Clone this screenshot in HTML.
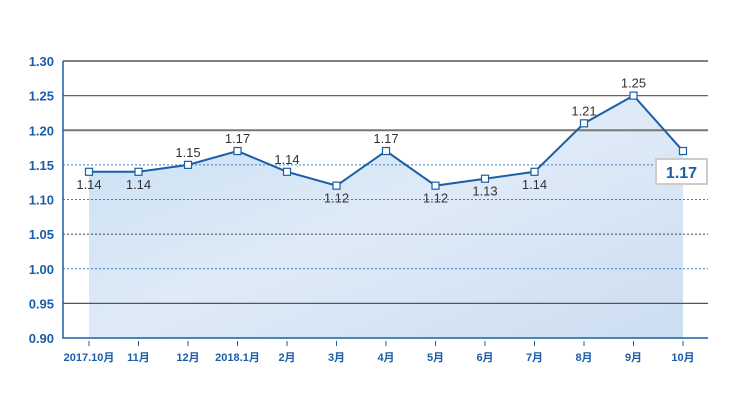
<!DOCTYPE html>
<html><head><meta charset="utf-8"><style>
body{margin:0;background:#fff;width:740px;height:400px;overflow:hidden;font-family:"Liberation Sans","Noto Sans CJK SC",sans-serif}
</style></head><body>
<svg id="chart" width="740" height="400" xmlns="http://www.w3.org/2000/svg">
<defs>
<linearGradient id="ag" x1="0" y1="0" x2="1" y2="1">
<stop offset="0" stop-color="#c4ddf2"/><stop offset="0.5" stop-color="#dde9f7"/><stop offset="1" stop-color="#c9dcf0"/>
</linearGradient>
</defs>
<g id="area"></g><g id="grid"></g><g id="axes"></g><g id="marks"></g>
</svg>
<script>
const categories=["2017.10月","11月","12月","2018.1月","2月","3月","4月","5月","6月","7月","8月","9月","10月"];
const values=[1.14,1.14,1.15,1.17,1.14,1.12,1.17,1.12,1.13,1.14,1.21,1.25,1.17];
const yTicks=["0.90","0.95","1.00","1.05","1.10","1.15","1.20","1.25","1.30"];
const labelBelow=[true,true,false,false,false,true,false,true,true,true,false,false,false];
const NS="http://www.w3.org/2000/svg";
const L=63,R=708,T=61,B=338,ymin=0.9,ymax=1.3;
const y=v=>B-(v-ymin)/(ymax-ymin)*(B-T);
const x=i=>89+i*(683-89)/(categories.length-1);
function mk(p,tag,a){const e=document.createElementNS(NS,tag);for(const k in a)e.setAttribute(k,a[k]);p.appendChild(e);return e;}
const grid=document.getElementById('grid'),area=document.getElementById('area'),axes=document.getElementById('axes'),marks=document.getElementById('marks');
const gstyle={"1.30":["#333","none",1.2],"1.25":["#666","none",1.2],"1.20":["#777","none",2],"1.15":["#3a7cc4","2,2",1],"1.10":["#3a7cc4","2,2",1],"1.05":["#444","2,2",1],"1.00":["#3a7cc4","2,2",1],"0.95":["#555","none",1.2]};
yTicks.forEach(t=>{const v=parseFloat(t);const yy=y(v);
 if(gstyle[t]){const s=gstyle[t];const ln=mk(grid,'line',{x1:L,x2:R,y1:yy,y2:yy,stroke:s[0],'stroke-width':s[2],'stroke-dasharray':s[1]});
 
 }
 const tx=mk(axes,'text',{x:54,y:yy+5,'text-anchor':'end','font-size':13,'font-weight':'bold',fill:'#1b5ea8'});tx.textContent=t;
 
 
});
let d="M"+x(0)+","+B;values.forEach((v,i)=>d+=" L"+x(i)+","+y(v));d+=" L"+x(values.length-1)+","+B+"Z";
const ar=mk(area,'path',{d:d,fill:'url(#ag)',opacity:0.95});


const ax=mk(axes,'path',{d:`M${L},${T} L${L},${B} L${R},${B}`,fill:'none',stroke:'#1b5ea8','stroke-width':1.5});


categories.forEach((c,i)=>{
 const tk=mk(axes,'line',{x1:x(i),x2:x(i),y1:B+3,y2:B+8,stroke:'#1b5ea8','stroke-width':1});
 
 
 const tx=mk(axes,'text',{x:x(i),y:361,'text-anchor':'middle','font-size':11,'font-weight':'bold',fill:'#1b5ea8'});tx.textContent=c;
 
 
});
const pts=values.map((v,i)=>x(i)+","+y(v)).join(" ");
const pl=mk(marks,'polyline',{points:pts,fill:'none',stroke:'#1b5ea8','stroke-width':2});


values.forEach((v,i)=>{
 const r=mk(marks,'rect',{x:x(i)-3.5,y:y(v)-3.5,width:7,height:7,fill:'#fff',stroke:'#1b5ea8','stroke-width':1.2});
 
 
 if(i===values.length-1){
  const bx=mk(marks,'rect',{x:656,y:159,width:51,height:25,fill:'#fff',stroke:'#ccc','stroke-width':2});
  
  
  const t=mk(marks,'text',{x:681.5,y:178,'text-anchor':'middle','font-size':16,'font-weight':'bold',fill:'#1b5ea8'});t.textContent=v.toFixed(2);
  
  
 } else {
  const t=mk(marks,'text',{x:x(i),y:labelBelow[i]?y(v)+17:y(v)-8,'text-anchor':'middle','font-size':13,fill:'#333'});t.textContent=v.toFixed(2);
  
  
 }
});
</script>
</body></html>
